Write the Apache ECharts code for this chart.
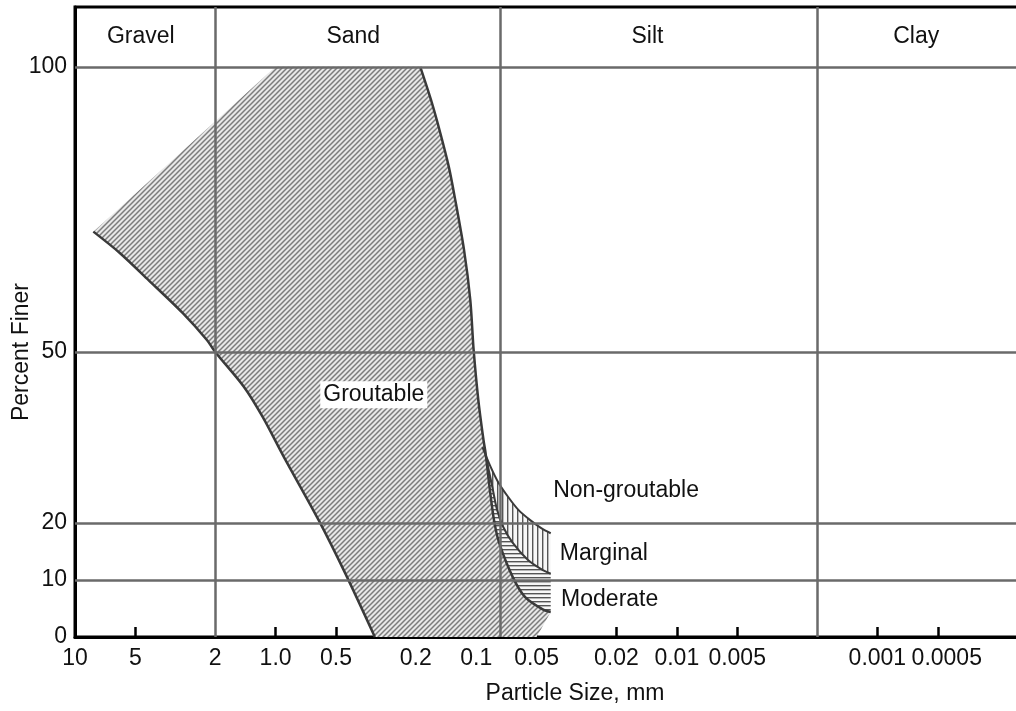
<!DOCTYPE html>
<html>
<head>
<meta charset="utf-8">
<script src="https://cdn.jsdelivr.net/npm/echarts@6/dist/echarts.min.js"></script>
<style>
  html, body { margin: 0; padding: 0; background: #fff; }
  #chart { width: 1016px; height: 711px; }
</style>
</head>
<body>
<div id="chart"></div>
<script>
// particle size ticks in mm and how they are printed
const sizeTicks = [10, 5, 2, 1, 0.5, 0.2, 0.1, 0.05, 0.02, 0.01, 0.005, 0.001, 0.0005];
const sizeLabels = ['10', '5', '2', '1.0', '0.5', '0.2', '0.1', '0.05', '0.02', '0.01', '0.005', '0.001', '0.0005'];
const percentTicks = [0, 10, 20, 50, 100];

// soil class boundaries (mm) and header names
const soilBounds = [2, 0.075, 0.002];
const soilNames = ['Gravel', 'Sand', 'Silt', 'Clay'];
const soilNameAt = [4.7, 0.41, 0.014, 0.00064];
const headerLevel = 105.3;

// curves, [size mm, percent finer]
const coarseLimit = [[8.1, 71.1], [6.0, 67.4], [4.3, 62.6], [2.9, 56.8], [2.2, 52.1], [2.0, 50.0],
  [1.44, 43.9], [1.16, 38.6], [0.91, 31.6], [0.61, 20.5], [0.45, 11.2], [0.32, 0]];
const coarseTop = [[8.1, 71.1], [1.0, 100]];
const fineLimit = [[0.19, 100], [0.168, 94.2], [0.151, 88.4], [0.137, 82.5], [0.128, 77.2],
  [0.115, 67.9], [0.107, 59.1], [0.103, 50.4], [0.0976, 41.6], [0.092, 34.6]];
const moderateBase = [[0.092, 34.6], [0.0898, 32.3], [0.0856, 26.0], [0.0815, 20.5], [0.0768, 16.5],
  [0.0657, 10.5], [0.057, 7.0], [0.0458, 4.7], [0.0425, 4.4]];
const fineFoot = [[0.0425, 4.4], [0.05, 0]];
const marginalTop = [[0.0931, 33.3], [0.0856, 30.2], [0.0778, 27.2], [0.0694, 24.6], [0.0616, 22.3],
  [0.0538, 20.5], [0.0474, 19.1], [0.0425, 18.2]];
const moderateTop = [[0.0898, 31.9], [0.0835, 26.7], [0.0787, 22.3], [0.0733, 19.3], [0.0657, 16.5],
  [0.0552, 13.5], [0.0474, 11.9], [0.0425, 11.1]];

// zone labels
const zoneNames = ['Groutable', 'Non-groutable', 'Marginal', 'Moderate'];
const zoneNameAt = [[0.324, 42.5], [0.0179, 25.6], [0.0231, 14.7], [0.0216, 6.5]];

const toU = d => -Math.log10(d);
const tickU = sizeTicks.map(toU);
const font = 'Liberation Sans, Arial, Helvetica, sans-serif';

function hatch(w, h, draw) {
  const c = document.createElement('canvas');
  c.width = w; c.height = h;
  draw(c.getContext('2d'));
  return { image: c, repeat: 'repeat' };
}
const diagFill = hatch(5, 5, g => {
  g.fillStyle = '#e8e8e8'; g.fillRect(0, 0, 5, 5);
  g.strokeStyle = '#7c7c7c'; g.lineWidth = 1.5;
  g.beginPath();
  g.moveTo(0, 5); g.lineTo(5, 0);
  g.moveTo(-1, 1); g.lineTo(1, -1);
  g.moveTo(4, 6); g.lineTo(6, 4);
  g.stroke();
});
const vertFill = hatch(5, 5, g => {
  g.fillStyle = '#f7f7f7'; g.fillRect(0, 0, 5, 5);
  g.fillStyle = '#555'; g.fillRect(2, 0, 1.4, 5);
});
const horizFill = hatch(4, 4, g => {
  g.fillStyle = '#f7f7f7'; g.fillRect(0, 0, 4, 4);
  g.fillStyle = '#555'; g.fillRect(0, 1, 4, 1.4);
});

function zone(pts, fill) {
  return {
    type: 'custom', z: 2, silent: true, data: [[0, 0]],
    renderItem: (params, api) => params.dataIndex ? null : {
      type: 'polygon',
      shape: { points: pts.map(p => api.coord([toU(p[0]), p[1]])) },
      style: { fill: fill, stroke: null }
    }
  };
}
function curve(pts, width) {
  return {
    type: 'line', z: 3, silent: true, showSymbol: false, smooth: 0.3,
    data: pts.map(p => [toU(p[0]), p[1]]),
    lineStyle: { color: '#3a3a3a', width: width }
  };
}
function labels(names, at, level, boxed) {
  return {
    type: 'custom', z: 6, silent: true,
    data: names.map((n, i) => [toU(level == null ? at[i][0] : at[i]), level == null ? at[i][1] : level]),
    renderItem: (params, api) => {
      const p = api.coord([api.value(0), api.value(1)]);
      const i = params.dataIndex;
      return {
        type: 'text', x: p[0], y: p[1],
        style: {
          text: names[i], font: '23px ' + font, fill: '#111',
          align: 'center', verticalAlign: 'middle',
          backgroundColor: boxed && i === 0 ? '#fff' : null,
          padding: boxed && i === 0 ? [2, 3] : 0
        }
      };
    }
  };
}

const groutable = coarseTop.slice(1)
  .concat(fineLimit, moderateBase.slice(1), fineFoot.slice(1), coarseLimit.slice().reverse());
const marginal = marginalTop.concat(moderateTop.slice().reverse());
const moderate = moderateTop.concat(moderateBase.slice().reverse());

const chart = echarts.init(document.getElementById('chart'));
chart.setOption({
  animation: false,
  textStyle: { fontFamily: font },
  grid: {
    left: 75, right: -3, top: 7, bottom: 74, containLabel: false, outerBoundsMode: 'none',
    show: true, borderColor: '#000', borderWidth: 3
  },
  xAxis: {
    type: 'value', min: -1, max: 3.706,
    axisLine: { onZero: false, lineStyle: { color: '#000', width: 3 } },
    axisTick: {
      show: true, inside: true, length: 10,
      customValues: tickU.filter((u, i) => i !== 0 && i !== 2),
      lineStyle: { color: '#000', width: 2.5 }
    },
    axisLabel: {
      customValues: tickU, fontSize: 23, color: '#111', margin: 10, hideOverlap: false,
      formatter: v => {
        const i = tickU.findIndex(t => Math.abs(t - v) < 1e-6);
        if (i < 0) return '';
        return i === sizeLabels.length - 1 ? '{last|' + sizeLabels[i] + '}' : sizeLabels[i];
      },
      rich: { last: { fontSize: 23, color: '#111', padding: [0, 0, 0, 18] } }
    },
    splitLine: { show: false },
    name: 'Particle Size, mm', nameLocation: 'middle', nameGap: 45,
    nameTextStyle: { fontSize: 23, color: '#111', padding: [0, 0, 0, 56] }
  },
  yAxis: {
    type: 'value', min: 0, max: 110.5,
    axisLine: { show: true, onZero: false, lineStyle: { color: '#000', width: 3 } },
    axisTick: { show: false },
    axisLabel: { customValues: percentTicks, fontSize: 23, color: '#111', margin: 8 },
    splitLine: { show: false },
    name: 'Percent Finer', nameLocation: 'middle', nameGap: 42, nameMoveOverlap: false,
    nameTextStyle: { fontSize: 23, color: '#111', padding: [0, 60, 0, 0] }
  },
  series: [
    zone(groutable, diagFill),
    zone(marginal, vertFill),
    zone(moderate, horizFill),
    curve(coarseLimit, 2.5),
    curve(fineLimit.concat(moderateBase.slice(1)), 2.5),
    curve(marginalTop, 2),
    curve(moderateTop, 2),
    {
      type: 'line', z: 5, silent: true, data: [],
      markLine: {
        silent: true, symbol: ['none', 'none'], label: { show: false },
        lineStyle: { color: '#6a6a6a', width: 2.5, type: 'solid' },
        data: percentTicks.filter(v => v > 0).map(v => ({ yAxis: v }))
          .concat(soilBounds.map(d => ({ xAxis: toU(d) })))
      }
    },
    labels(soilNames, soilNameAt, headerLevel, false),
    labels(zoneNames, zoneNameAt, null, true)
  ]
});
</script>
</body>
</html>
